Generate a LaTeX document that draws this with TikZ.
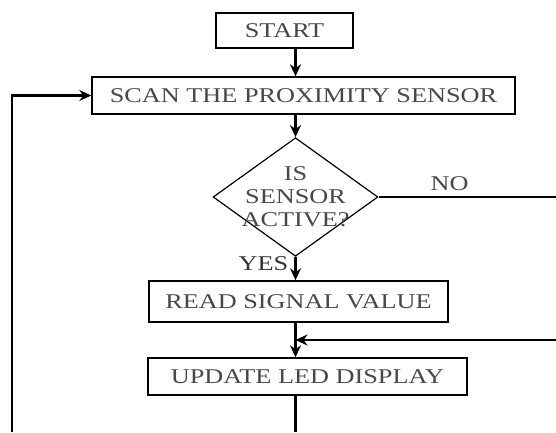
\documentclass[tikz,border=0pt]{standalone}
\usepackage{fontspec}
\setmainfont{Liberation Serif}[FakeStretch=1.25]
\usetikzlibrary{shapes.geometric,arrows.meta}
\tikzset{
  box/.style={draw,line width=1.4pt,text=black!72,minimum height=37pt,inner sep=0pt},
  decision/.style={draw,diamond,line width=1.2pt,text=black!72,align=center,aspect=1.39,inner sep=-5.6pt},
  flow/.style={line width=2.6pt,->},
}
\begin{document}
\begin{tikzpicture}[x=1pt,y=-1pt,>={Stealth[length=12pt,width=11pt]},font=\fontsize{21}{23}\selectfont]
\useasboundingbox (0,0) rectangle (556,432);
\node[box,minimum width=137pt,minimum height=35pt](start) at (284.5,30.5){START};
\node[box,minimum width=423pt](scan) at (303.5,95.5){SCAN THE PROXIMITY SENSOR};
\node[decision](dec) at (295.5,197){IS\\SENSOR\\ACTIVE?};
\node[box,minimum width=299pt,minimum height=41pt](read) at (298.5,301.5){READ SIGNAL VALUE};
\node[box,minimum width=319pt](update) at (307.5,376.5){UPDATE LED DISPLAY};
\coordinate(noend) at (556,197);
\coordinate(merge) at (556,340);
\coordinate(loopbot) at (12,432);
\coordinate(outbot) at (295.5,432);
\draw[flow](start.south -| dec.north)--(scan.north -| dec.north);
\draw[flow](scan.south -| dec.north)--(dec.north);
\draw[flow](dec.south)--node[left,pos=.3,inner sep=6pt,text=black!80]{YES}(dec.south |- read.north);
\draw[flow](read.south -| dec.north)--(update.north -| dec.north);
\draw[line width=2.6pt](update.south -| dec.north)--(outbot);
\draw[line width=1.6pt](dec.east)--node[above,pos=.4,inner sep=6pt,text=black!72]{NO}(dec.east -| noend);
\draw[line width=2.4pt,->](merge)--(merge -| dec.north);
\draw[line width=2.6pt,->](loopbot)--(loopbot |- scan.west)--(scan.west);
\end{tikzpicture}
\end{document}
